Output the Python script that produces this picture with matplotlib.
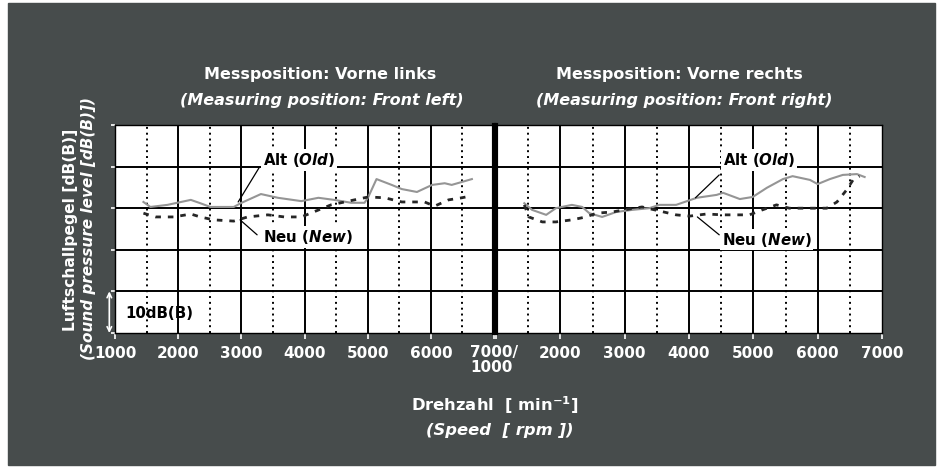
import matplotlib.pyplot as plt
from matplotlib.patches import Rectangle

plt.rcParams['font.family'] = ['DejaVu Sans']
plt.rcParams['font.weight'] = 'bold'
plt.rcParams['mathtext.fontset'] = 'custom'
plt.rcParams['mathtext.rm'] = 'DejaVu Sans:bold'
plt.rcParams['mathtext.bf'] = 'DejaVu Sans:bold'
plt.rcParams['mathtext.it'] = 'DejaVu Sans:bold:italic'

# Drehzahl-Achse und Pegel-Raster
tick_rpm = [1000, 2000, 3000, 4000, 5000, 6000, 7000]
mid_rpm = [1500, 2500, 3500, 4500, 5500, 6500]
grid_db = [10, 20, 30, 40]
left_ticklabels = ['1000', '2000', '3000', '4000', '5000', '6000', '7000/\n1000']
right_ticklabels = ['', '2000', '3000', '4000', '5000', '6000', '7000']

# Vorne links
left_alt_rpm = [1450, 1560, 1830, 2200, 2350, 2510, 2880, 2990, 3310, 3580, 3950, 4220,
                4470, 4740, 4950, 5010, 5140, 5380, 5540, 5780, 6020, 6220, 6330, 6650]
left_alt_db = [31.5, 30.3, 30.8, 32.0, 31.2, 30.3, 30.3, 31.2, 33.4, 32.5, 31.7, 32.5,
               32.0, 31.3, 31.3, 32.7, 37.0, 35.6, 34.6, 33.9, 35.6, 36.0, 35.6, 37.0]
left_neu_rpm = [1450, 1640, 1930, 2200, 2350, 2560, 2880, 3100, 3420, 3680, 3950,
                4420, 4790, 5010, 5270, 5540, 5900, 6060, 6280, 6490, 6650]
left_neu_db = [28.8, 27.9, 27.9, 28.6, 27.9, 27.2, 26.9, 27.9, 28.4, 27.9, 27.9,
               30.8, 32.0, 32.7, 32.5, 31.5, 31.5, 30.5, 32.0, 32.5, 33.0]

# Vorne rechts
right_alt_rpm = [1440, 1560, 1780, 1930, 2180, 2340, 2450, 2650, 2870, 3120, 3380, 3540, 3800,
                 4120, 4430, 4530, 4790, 4990, 5210, 5460, 5610, 5880, 6000, 6190, 6390, 6610, 6730]
right_alt_db = [31.2, 29.6, 28.4, 30.0, 30.8, 30.3, 28.8, 27.9, 29.1, 29.6, 30.0, 30.8, 30.8,
                32.5, 33.2, 33.7, 32.2, 32.7, 34.9, 37.0, 37.7, 36.8, 35.8, 37.0, 38.0, 38.2, 37.5]
right_neu_rpm = [1440, 1510, 1720, 1930, 2180, 2400, 2560, 2810, 3070, 3270, 3800, 4010,
                 4270, 4530, 4940, 5140, 5360, 5560, 5880, 6140, 6300, 6450, 6550, 6650]
right_neu_db = [30.8, 27.9, 26.7, 26.7, 27.2, 27.9, 28.8, 29.1, 29.8, 30.3, 28.4, 28.1,
                28.6, 28.4, 28.4, 29.6, 30.8, 30.0, 30.0, 30.0, 31.5, 34.4, 36.8, 37.7]

W, H = 938, 472


def fx(x):
    return x / W


def fy(y):
    return 1 - y / H


BG = '#474c4c'

fig = plt.figure(figsize=(9.38, 4.72), dpi=100, facecolor='white')
fig.patches.append(Rectangle((fx(8), fy(465)), fx(935) - fx(8), fy(3) - fy(465),
                             transform=fig.transFigure, color=BG, zorder=-10))

ax_l = fig.add_axes([fx(115), fy(333), fx(494) - fx(115), fy(125) - fy(333)])
ax_r = fig.add_axes([fx(496), fy(333), fx(882) - fx(496), fy(125) - fy(333)])


def annot(ax, word, eng, pt, start, textpos):
    ax.annotate('', xy=pt, xytext=start,
                arrowprops=dict(arrowstyle='-', color='black', lw=0.9, shrinkA=0, shrinkB=0))
    ax.text(textpos[0], textpos[1], word + ' $\\mathit{' + eng + '}$', fontsize=10.8,
            ha='left', va='center', zorder=5,
            bbox=dict(facecolor='white', edgecolor='none', pad=1.2))


for ax, labels in ((ax_l, left_ticklabels), (ax_r, right_ticklabels)):
    ax.set_xlim(1000, 7000)
    ax.set_ylim(0, 50)
    for x in tick_rpm[1:-1]:
        ax.axvline(x, color='black', lw=1.4, zorder=1)
    for x in mid_rpm:
        ax.axvline(x, color='black', lw=1.4, ls=(0, (1, 2)), zorder=1)
    for y in grid_db:
        ax.axhline(y, color='black', lw=1.4, zorder=1)
    ax.set_xticks(tick_rpm)
    ax.set_xticklabels(labels, multialignment='left', linespacing=1.0)
    ax.tick_params(axis='x', direction='out', length=4, width=1.2, color='white',
                   labelcolor='white', labelsize=11, pad=5)
    for s in ax.spines.values():
        s.set_color('black')
        s.set_linewidth(1.0)

ax_l.set_yticks([0, 10, 20, 30, 40, 50])
ax_l.set_yticklabels([])
ax_l.tick_params(axis='y', direction='out', length=3, width=1.2, color='white')
ax_r.set_yticks([])
ax_l.spines['right'].set_linewidth(3)
ax_r.spines['left'].set_linewidth(3)

ax_l.plot(left_alt_rpm, left_alt_db, color='#959595', lw=1.5, zorder=3)
ax_l.plot(left_neu_rpm, left_neu_db, color='#262626', lw=2, ls=(0, (2, 2.5)), zorder=3)
ax_r.plot(right_alt_rpm, right_alt_db, color='#959595', lw=1.5, zorder=3)
ax_r.plot(right_neu_rpm, right_neu_db, color='#262626', lw=2, ls=(0, (2, 2.5)), zorder=3)

annot(ax_l, 'Alt', '(Old)', (2950, 31.5), (3280, 39.7), (3340, 41.6))
annot(ax_l, 'Neu', '(New)', (2980, 27.2), (3250, 23.6), (3340, 23.1))
annot(ax_r, 'Alt', '(Old)', (4100, 32.5), (4470, 38.0), (4530, 41.6))
annot(ax_r, 'Neu', '(New)', (4130, 27.9), (4470, 23.6), (4510, 22.4))

# 10 dB(B) Massstab
ax_l.annotate('', xy=(-0.015, 0), xytext=(-0.015, 10), xycoords=('axes fraction', 'data'),
              textcoords=('axes fraction', 'data'),
              arrowprops=dict(arrowstyle='<->', color='white', lw=1.2, shrinkA=0, shrinkB=0,
                              mutation_scale=8), annotation_clip=False)
ax_l.text(1160, 4.7, '10dB(B)', fontsize=10.8, ha='left', va='center', zorder=5)

# Titel
fig.text(fx(320), fy(75), 'Messposition: Vorne links', color='white', fontsize=11.5,
         ha='center', va='center')
fig.text(fx(322), fy(101), '(Measuring position: Front left)', color='white', fontsize=11.5,
         style='italic', ha='center', va='center')
fig.text(fx(679), fy(75), 'Messposition: Vorne rechts', color='white', fontsize=11.5,
         ha='center', va='center')
fig.text(fx(684), fy(101), '(Measuring position: Front right)', color='white', fontsize=11.5,
         style='italic', ha='center', va='center')

# Achsentitel
fig.text(fx(70), fy(230), 'Luftschallpegel [dB(B)]', color='white', fontsize=11.2,
         rotation=90, ha='center', va='center')
fig.text(fx(89), fy(229), '(Sound pressure level [dB(B)])', color='white', fontsize=11,
         style='italic', rotation=90, ha='center', va='center')
fig.text(fx(495), fy(405), r'Drehzahl  [ min$^{\mathbf{-1}}$]', color='white', fontsize=11.8,
         ha='center', va='center')
fig.text(fx(500), fy(430), '(Speed  [ rpm ])', color='white', fontsize=11.8,
         style='italic', ha='center', va='center')

fig.savefig('out.png', dpi=100)
